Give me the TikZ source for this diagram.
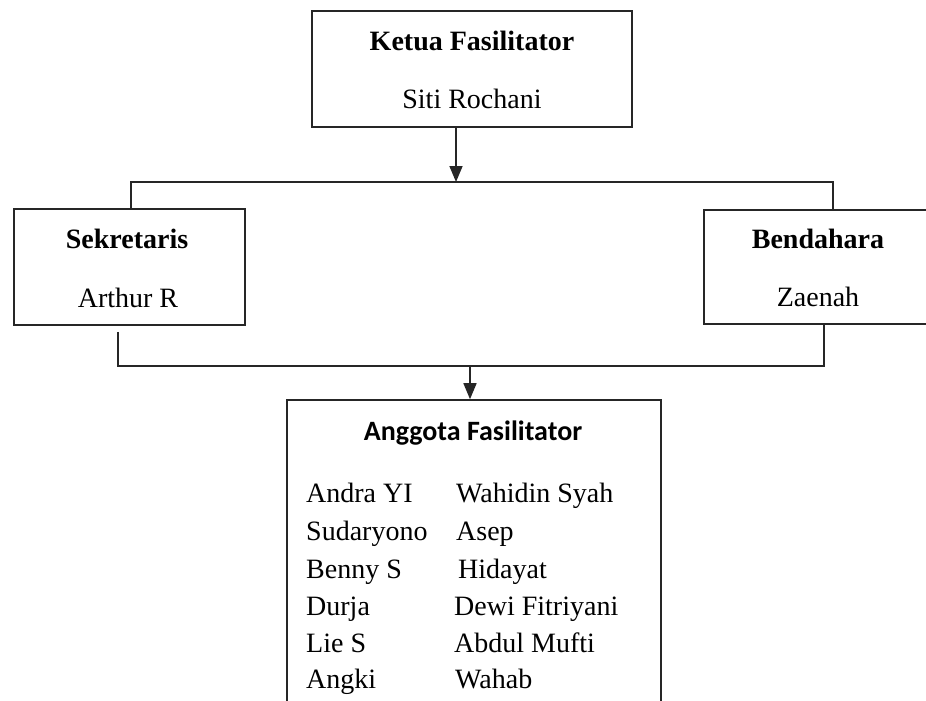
\documentclass[tikz,border=0pt]{standalone}
\usepackage{fontspec}
\setmainfont{Liberation Serif}
\newfontfamily\headsans{Carlito}
\usetikzlibrary{arrows.meta}
\tikzset{
  box/.style={draw=black!85, line width=1.6pt, rectangle, inner sep=0pt, fill=white},
  wire/.style={draw=black!85, line width=1.6pt},
  tip/.style={-{Triangle[length=16pt,width=13pt]}},
  lbl/.style={font=\fontsize{28}{34}\selectfont, anchor=base, inner sep=0pt},
  heading/.style={lbl, font=\fontsize{28}{34}\selectfont\bfseries},
  person/.style={lbl, anchor=base west}
}
\begin{document}
\begin{tikzpicture}[x=1pt,y=-1pt]
% canvas
\fill[white] (0,0) rectangle (926,701);
\useasboundingbox (0,0) rectangle (926,701);
\clip (0,0) rectangle (926,701);

% boxes
\node[box, minimum width=320pt, minimum height=116pt] (top) at (472,69) {};
\node[box, minimum width=231pt, minimum height=116pt] (sek) at (129.5,267) {};
\node[box, minimum width=231pt, minimum height=114pt] (ben) at (819.5,267) {};
\node[box, minimum width=374pt, minimum height=360pt] (mem) at (474,580) {};

% box texts
\node[heading] (topT) at (472,51) {Ketua Fasilitator};
\node[lbl]     (topN) at (472,108) {Siti Rochani};
\node[heading] (sekT) at (127,248) {Sekretaris};
\node[lbl]     (sekN) at (128,307) {Arthur R};
\node[heading] (benT) at (818,248) {Bendahara};
\node[lbl]     (benN) at (818,306) {Zaenah};
\node[lbl, font=\fontsize{28}{34}\headsans\bfseries] (memT) at (473,440) {Anggota Fasilitator};

% member list
\node[person] (m1)  at (306,502) {Andra YI};
\node[person] (m2)  at (306,540) {Sudaryono};
\node[person] (m3)  at (306,578) {Benny S};
\node[person] (m4)  at (306,615) {Durja};
\node[person] (m5)  at (306,652) {Lie S};
\node[person] (m6)  at (306,688) {Angki};
\node[person] (m7)  at (456,502) {Wahidin Syah};
\node[person] (m8)  at (456,540) {Asep};
\node[person] (m9)  at (458,578) {Hidayat};
\node[person] (m10) at (454,615) {Dewi Fitriyani};
\node[person] (m11) at (454,652) {Abdul Mufti};
\node[person] (m12) at (455,688) {Wahab};

% upper bus
\coordinate (busL) at (131,182);
\coordinate (busM) at (456,182);
\coordinate (busR) at (833,182);
\draw[wire, tip] (top.south -| busM) -- (busM);
\draw[wire] (sek.north -| busL) -- (busL) -- (busR) -- (ben.north -| busR);

% lower bus
\coordinate (lowL) at (118,366);
\coordinate (lowM) at (470,366);
\coordinate (lowR) at (824,366);
\draw[wire] ([yshift=-6pt]sek.south -| lowL) -- (lowL) -- (lowR) -- (ben.south -| lowR);
\draw[wire, tip] (lowM) -- (mem.north -| lowM);
\end{tikzpicture}
\end{document}
